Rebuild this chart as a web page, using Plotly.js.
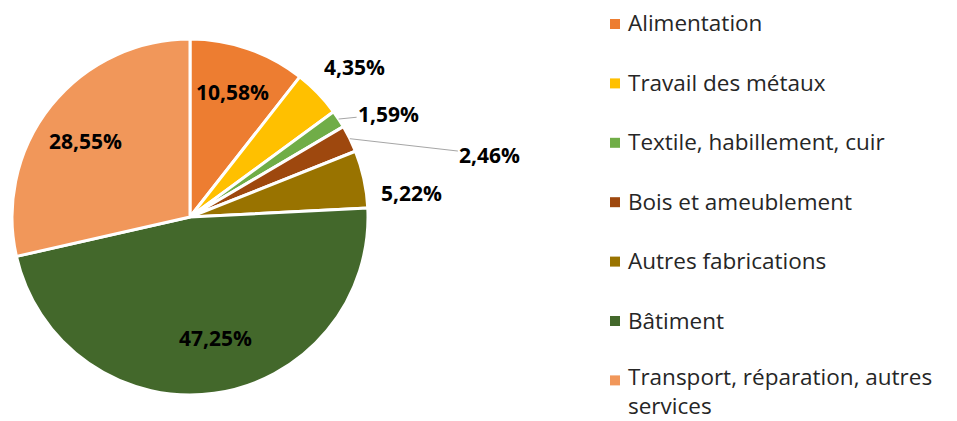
<!DOCTYPE html>
<html>
<head>
<meta charset="utf-8">
<script src="https://cdn.plot.ly/plotly-3.0.1.min.js"></script>
<style>html,body{margin:0;padding:0;background:#fff;}#chart{width:957px;height:421px;}</style>
</head>
<body>
<div id="chart"></div>
<script>
const categories = ["Alimentation", "Travail des métaux", "Textile, habillement, cuir", "Bois et ameublement", "Autres fabrications", "Bâtiment", "Transport, réparation, autres<br>services"];
const values = [10.58, 4.35, 1.59, 2.46, 5.22, 47.25, 28.55];
const colors = ["#ED7D31", "#FFC000", "#70AD47", "#9E480E", "#997300", "#43682B", "#F1975A"];

// layout constants (pixels)
const W = 957, H = 421;
const CX = 190, CY = 217, R = 178;
const FONT = "'Open Sans', Lato, sans-serif";
// label placement style
const labelInside = [true, false, false, false, false, true, true];
const labelRadius = [0.74, 1, 1, 1, 1, 0.70, 0.75];
const labelOffset = [[0,0],[37,-26],[50,-5],[140,16],[48,14],[9,-2],[0,7]];
const labelArrow = [false, false, true, true, false, false, false];

function fmt(v){ return v.toFixed(2).replace('.', ',') + '%'; }

const total = values.reduce((a,b)=>a+b,0);
const annotations = [];
const shapes = [];
let cum = 0;
values.forEach((v,i)=>{
  const mid = (cum + v/2) / total * 2*Math.PI;
  cum += v;
  const r = R * labelRadius[i];
  const px = CX + r*Math.sin(mid) + (labelInside[i] ? labelOffset[i][0] : 0);
  const py = CY - r*Math.cos(mid) + (labelInside[i] ? labelOffset[i][1] : 0);
  const a = {
    x: px / W, y: 1 - py / H, xref: 'paper', yref: 'paper',
    xanchor: 'center', yanchor: 'middle',
    text: '<b>' + fmt(v) + '</b>',
    font: {family: FONT, size: 21, color: '#000'},
    showarrow: false
  };
  if (!labelInside[i]) {
    a.showarrow = true;
    a.ax = labelOffset[i][0]; a.ay = labelOffset[i][1];
    a.axref = 'pixel'; a.ayref = 'pixel';
    a.arrowhead = 0; a.arrowwidth = 1;
    a.arrowcolor = labelArrow[i] ? '#A6A6A6' : 'rgba(0,0,0,0)';
    a.standoff = 0;
  }
  annotations.push(a);
});

// manual legend
const LX = 610, LS = 10, TX = 627, LY0 = 24, LDY = 59.4, LFS = 22.5;
const LH = LFS * 1.3;
categories.forEach((c,i)=>{
  const cy = LY0 + i*LDY;
  shapes.push({type:'rect', xref:'paper', yref:'paper',
    x0: LX/W, x1: (LX+LS)/W, y0: 1-(cy+LS/2)/H, y1: 1-(cy-LS/2)/H,
    fillcolor: colors[i], line:{width:0}});
  const n = c.split('<br>').length;
  const boxH = n * LH;
  let center = cy - 1 + (n-1)*LH/2;
  center = Math.min(center, H - boxH/2 - 1);
  annotations.push({x: TX/W, y: 1-center/H, xref:'paper', yref:'paper',
    xanchor:'left', yanchor:'middle', align:'left', showarrow:false, borderpad:0,
    text: c, font:{family: FONT, size: LFS, color:'#262626'}});
});

const trace = {
  type: 'pie',
  labels: categories,
  values: values,
  sort: false,
  direction: 'clockwise',
  rotation: 0,
  marker: {colors: colors, line: {color: '#fff', width: 3}},
  textinfo: 'none',
  hoverinfo: 'label+percent',
  showlegend: false,
  domain: {x: [(CX-R)/W, (CX+R)/W], y: [1-(CY+R)/H, 1-(CY-R)/H]}
};

Plotly.newPlot('chart', [trace], {
  width: W, height: H,
  margin: {l:0, r:0, t:0, b:0},
  paper_bgcolor: '#fff',
  showlegend: false,
  annotations: annotations,
  shapes: shapes
}, {displayModeBar: false, staticPlot: true});
</script>
</body>
</html>
